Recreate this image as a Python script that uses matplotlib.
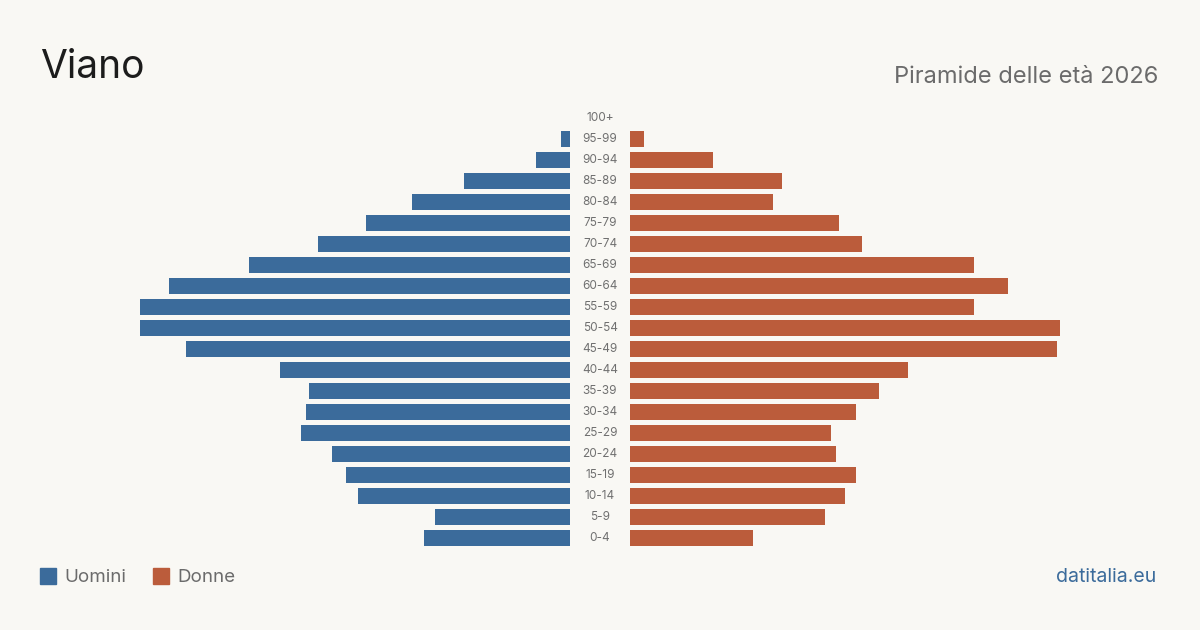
import numpy as np
import matplotlib.pyplot as plt
from matplotlib.patches import Rectangle

plt.rcParams['font.family'] = ['Inter', 'DejaVu Sans']

ages = ['0-4', '5-9', '10-14', '15-19', '20-24', '25-29', '30-34', '35-39',
        '40-44', '45-49', '50-54', '55-59', '60-64', '65-69', '70-74', '75-79',
        '80-84', '85-89', '90-94', '95-99', '100+']
uomini = [51, 47, 74, 78, 83, 94, 92, 91, 101, 134, 150, 150, 140, 112, 88, 71,
          55, 37, 12, 3, 0]
donne = [43, 68, 75, 79, 72, 70, 79, 87, 97, 149, 150, 120, 132, 120, 81, 73,
         50, 53, 29, 5, 0]

blue = '#3b6b9b'
red = '#bb5c3b'
bg = '#f9f8f4'

W, H = 1200, 630
fig = plt.figure(figsize=(12, 6.3), dpi=100, facecolor=bg)

# bars: longest bar spans 430 px, male bars end at x=570, female start at 630
vmax = max(max(uomini), max(donne))
lim = vmax * 570 / 430
y = np.arange(len(ages))
row = 21
y0 = (H - 538) / row
ylim = (-y0, H / row - y0)

axl = fig.add_axes([0, 0, 570 / W, 1])
axr = fig.add_axes([630 / W, 0, 570 / W, 1])
for ax in (axl, axr):
    ax.set_ylim(*ylim)
    ax.axis('off')
    ax.patch.set_alpha(0)
axl.set_xlim(lim, 0)
axr.set_xlim(0, lim)
axl.barh(y, uomini, height=0.8, color=blue)
axr.barh(y, donne, height=0.8, color=red)

for i, a in enumerate(ages):
    fig.text(600 / W, (y0 + i) * row / H, a, ha='center', va='center',
             fontsize=8.5, color='#707070')

fig.text(40 / W, 1 - 67 / H, 'Viano', fontsize=28, color='#1c1c1c',
         va='center', ha='left')
fig.text(1158 / W, 1 - 77 / H, 'Piramide delle età 2026', fontsize=17,
         color='#6b6b6b', va='center', ha='right')

fig.patches.append(Rectangle((40 / W, 1 - 584 / H), 16 / W, 16 / H,
                             transform=fig.transFigure, color=blue))
fig.text(64 / W, 1 - 577 / H, 'Uomini', fontsize=13.5, color='#6b6b6b',
         va='center', ha='left')
fig.patches.append(Rectangle((153 / W, 1 - 584 / H), 16 / W, 16 / H,
                             transform=fig.transFigure, color=red))
fig.text(177 / W, 1 - 577 / H, 'Donne', fontsize=13.5, color='#6b6b6b',
         va='center', ha='left')
fig.text(1156 / W, 1 - 577 / H, 'datitalia.eu', fontsize=14, color=blue,
         va='center', ha='right')

fig.savefig('out.png', dpi=100, facecolor=bg)
